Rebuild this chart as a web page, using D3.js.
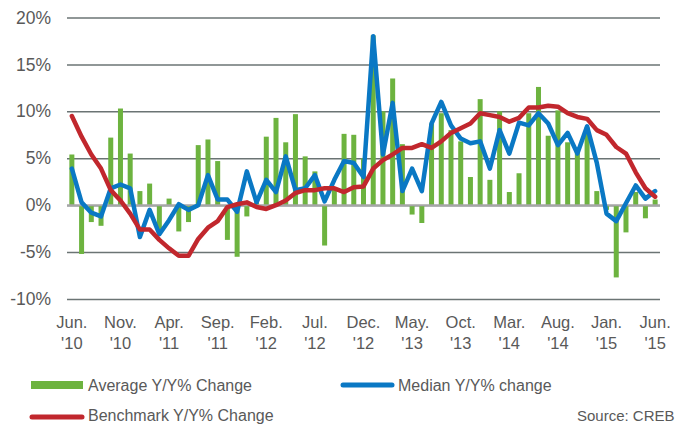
<!DOCTYPE html>
<html>
<head>
<meta charset="utf-8">
<script src="https://cdn.jsdelivr.net/npm/d3@7"></script>
<style>
  body { margin: 0; background: #fff; }
  svg { display: block; font-family: "Liberation Sans", Arial, sans-serif; }
</style>
</head>
<body>
<div id="chart"></div>
<script>
// DATA

// monthly, Jun 2010 .. Jun 2015
var months = d3.range(61);
var tickMonths = ["Jun.", "Nov.", "Apr.", "Sep.", "Feb.", "Jul.", "Dec.", "May.", "Oct.", "Mar.", "Aug.", "Jan.", "Jun."];
var tickYears = ["'10", "'10", "'11", "'11", "'12", "'12", "'12", "'13", "'13", "'14", "'14", "'15", "'15"];
var yTicks = [-10, -5, 0, 5, 10, 15, 20];

var average = [5.4, -5.2, -1.8, -2.2, 7.2, 10.3, 5.5, 1.5, 2.3, -2.6,
               0.7, -2.8, -1.8, 6.4, 7.0, 4.7, -3.7, -5.5, -1.2, 0.3,
               7.3, 9.3, 6.7, 9.7, 5.2, 3.6, -4.3, 1.8, 7.6, 7.5,
               5.0, 18.1, 10.0, 13.5, 6.5, -1.0, -1.9, 8.7, 9.8, 8.0,
               6.8, 3.0, 11.3, 2.7, 10.0, 1.4, 3.4, 9.8, 12.6, 7.4,
               10.1, 6.7, 5.8, 8.3, 1.5, -0.5, -7.7, -2.9, 1.4, -1.4, 0.6];

var median = [3.9, 0.3, -0.8, -1.2, 1.8, 2.2, 1.8, -3.4, -0.5, -3.1,
              -1.6, 0.1, -0.5, 0.0, 3.2, 0.6, 0.6, -0.7, 3.6, 0.3,
              2.7, 1.4, 5.2, 1.6, 1.8, 3.2, 0.4, 2.7, 4.7, 4.5,
              3.0, 18.0, 5.4, 10.9, 1.5, 3.9, 1.5, 8.7, 11.0, 8.5,
              7.1, 6.6, 6.8, 3.9, 8.0, 5.5, 8.8, 8.5, 9.8, 8.7,
              6.4, 7.7, 5.5, 8.4, 4.5, -0.9, -1.7, 0.2, 2.1, 0.7, 1.5];

var benchmark = [9.5, 7.3, 5.4, 3.9, 1.6, 0.5, -0.9, -2.6, -2.6, -3.7,
                 -4.6, -5.4, -5.4, -3.6, -2.4, -1.7, -0.2, 0.1, 0.3, -0.2,
                 -0.4, 0.0, 0.5, 1.3, 1.6, 1.6, 1.8, 1.8, 1.4, 1.9,
                 2.0, 3.9, 4.8, 5.4, 6.1, 6.1, 6.5, 6.1, 6.8, 7.7,
                 8.2, 8.7, 9.8, 9.6, 9.4, 8.9, 9.3, 10.4, 10.4, 10.6,
                 10.5, 9.8, 9.4, 9.2, 8.0, 7.5, 6.2, 5.5, 3.5, 1.8, 0.9];

// CHART

var width = 676;
var height = 425;
var green = "#6db33f", blue = "#0a78c4", red = "#c1272d", grey = "#595959";

var svg = d3.select("#chart")
    .append("svg")
    .attr("width", width)
    .attr("height", height);

var x = d3.scaleBand()
    .domain(months)
    .range([67, 660]);

var y = d3.scaleLinear()
    .domain([-10, 20])
    .range([299, 17.5]);

// grid + y labels
var yAxis = svg.append("g")
    .attr("transform", "translate(67,0)")
    .call(d3.axisLeft(y).tickValues(yTicks).tickSize(-593).tickPadding(16)
        .tickFormat(function (d) { return d + "%"; }));

yAxis.select(".domain").remove();
yAxis.selectAll(".tick line")
    .attr("stroke", "#6b7474")
    .attr("stroke-width", 1.5);
yAxis.selectAll(".tick text")
    .attr("fill", grey)
    .style("font-size", "17.5px")
    .style("font-family", "Liberation Sans, Arial, sans-serif");

// bars
svg.append("g")
    .selectAll("rect")
    .data(average)
    .enter()
    .append("rect")
    .attr("x", function (d, i) { return x(i) + x.bandwidth() / 2 - 2.5; })
    .attr("width", 5)
    .attr("y", function (d) { return y(Math.max(0, d)); })
    .attr("height", function (d) { return Math.abs(y(d) - y(0)); })
    .attr("fill", green);

// zero line
svg.append("line")
    .attr("x1", 67).attr("x2", 660)
    .attr("y1", y(0)).attr("y2", y(0))
    .attr("stroke", "#a6a6a6")
    .attr("stroke-width", 2);

var line = d3.line()
    .x(function (d, i) { return x(i) + x.bandwidth() / 2; })
    .y(function (d) { return y(d); });

svg.append("path")
    .datum(median)
    .attr("d", line)
    .attr("fill", "none")
    .attr("stroke", blue)
    .attr("stroke-width", 4.5)
    .attr("stroke-linejoin", "round")
    .attr("stroke-linecap", "round");

svg.append("path")
    .datum(benchmark)
    .attr("d", line)
    .attr("fill", "none")
    .attr("stroke", red)
    .attr("stroke-width", 4.5)
    .attr("stroke-linejoin", "round")
    .attr("stroke-linecap", "round");

// x labels every 5 months
var xLabels = svg.append("g")
    .selectAll("text")
    .data(tickMonths)
    .enter()
    .append("text")
    .attr("text-anchor", "middle")
    .attr("fill", grey)
    .style("font-size", "16.5px")
    .attr("x", function (d, i) { return x(i * 5) + x.bandwidth() / 2; })
    .attr("y", 328);

xLabels.append("tspan")
    .text(function (d) { return d; });
xLabels.append("tspan")
    .attr("x", function (d, i) { return x(i * 5) + x.bandwidth() / 2; })
    .attr("dy", 21)
    .text(function (d, i) { return tickYears[i]; });

// legend
var legend = svg.append("g").style("font-size", "16px").attr("fill", grey);

legend.append("rect")
    .attr("x", 31).attr("y", 381)
    .attr("width", 52).attr("height", 8)
    .attr("fill", green);
legend.append("text").attr("x", 88).attr("y", 391).text("Average Y/Y% Change");

legend.append("line")
    .attr("x1", 343).attr("x2", 392).attr("y1", 385).attr("y2", 385)
    .attr("stroke", blue).attr("stroke-width", 5).attr("stroke-linecap", "round");
legend.append("text").attr("x", 398).attr("y", 391).text("Median Y/Y% change");

legend.append("line")
    .attr("x1", 32).attr("x2", 82).attr("y1", 417).attr("y2", 417)
    .attr("stroke", red).attr("stroke-width", 5).attr("stroke-linecap", "round");
legend.append("text").attr("x", 88).attr("y", 421).text("Benchmark Y/Y% Change");

legend.append("text").attr("x", 577).attr("y", 421).style("font-size", "15px").text("Source: CREB");
</script>
</body>
</html>
